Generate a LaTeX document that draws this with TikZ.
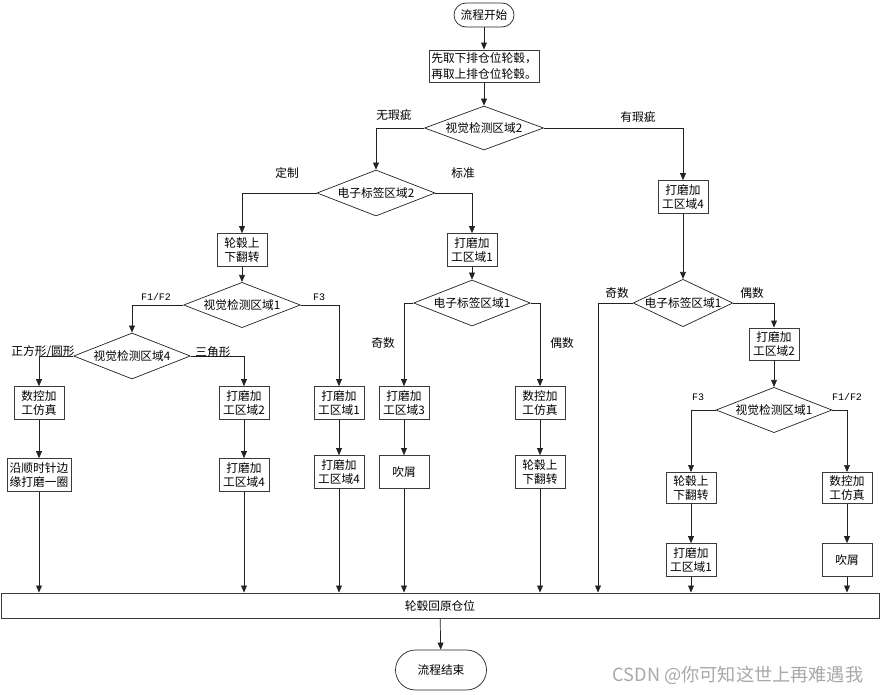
\documentclass[tikz,border=0pt]{standalone}
\usepackage{fontspec}
\setmainfont{Noto Sans CJK SC}
\newfontfamily\labelmono{Liberation Mono}
\usetikzlibrary{arrows.meta,shapes.geometric,positioning}
\definecolor{linecolor}{HTML}{222222}
\definecolor{boxedge}{HTML}{3A3A3A}
\definecolor{markcolor}{HTML}{A8A8A8}

\begin{document}
\begin{tikzpicture}[x=0.03cm, y=-0.03cm,
    procbox/.style={
        rectangle, draw=boxedge, line width=0.8pt, fill=white,
        minimum width=1.5cm, minimum height=0.98cm, inner xsep=1pt, inner ysep=1pt,
        align=center, font=\fontsize{10}{12.5}\selectfont
    },
    decision/.style={
        diamond, draw=linecolor, line width=0.6pt, fill=white,
        minimum width=3.5cm, minimum height=1.36cm, inner sep=0pt, aspect=2.6,
        font=\fontsize{10}{12}\selectfont
    },
    terminal/.style={
        rectangle, rounded corners=#1, draw=linecolor, line width=0.6pt, fill=white,
        font=\fontsize{10}{12}\selectfont
    },
    flow/.style={
        -{Triangle[length=6pt, width=5pt]}, line width=0.6pt, draw=linecolor
    },
    branchlabel/.style={
        font=\fontsize{10}{12}\selectfont, inner sep=0pt
    },
    codelabel/.style={
        font=\labelmono\fontsize{8.5}{10}\selectfont, inner sep=0pt
    }
]
\useasboundingbox (0,0) rectangle (881,694);

% Start and first step
\node[terminal=0.36cm, minimum width=1.8cm, minimum height=0.72cm] (start) at (484,15) {流程开始};
\node[procbox, minimum width=3.3cm, minimum height=0.96cm, font=\fontsize{10}{13}\selectfont] (fetch) at (484,66) {先取下排仓位轮毂，\\再取上排仓位轮毂。};
\node[decision, minimum width=3.57cm, minimum height=1.32cm] (vis2) at (484,128) {视觉检测区域2};

\draw[flow] (start) -- (fetch);
\draw[flow] (fetch) -- (vis2);

% No defect: tag check
\node[decision, minimum width=3.54cm, minimum height=1.38cm] (tag2) at (376,193) {电子标签区域2};
\draw[flow] (vis2.west) -| (tag2.north);
\node[branchlabel] (nodefect) at (394,115) {无瑕疵};

% Defect: grind region 4
\node[procbox] (grindfour) at (683,197) {打磨加\\工区域4};
\draw[flow] (vis2.east) -| (grindfour.north);
\node[branchlabel] (defect) at (638,117) {有瑕疵};

% Custom branch
\node[procbox] (flipA) at (242,250) {轮毂上\\下翻转};
\draw[flow] (tag2.west) -| (flipA.north);
\node[branchlabel] (custom) at (287,173) {定制};

\node[decision] (vis1A) at (242,305) {视觉检测区域1};
\draw[flow] (flipA) -- (vis1A);

\node[decision, minimum height=1.38cm] (vis4) at (132,356) {视觉检测区域4};
\draw[flow] (vis1A.west) -| (vis4.north);
\node[codelabel] (fonetwoA) at (156,297) {F1/F2};

\node[procbox] (grindoneA) at (339,403) {打磨加\\工区域1};
\draw[flow] (vis1A.east) -| (grindoneA.north);
\node[codelabel] (fthreeA) at (319,297) {F3};

\node[procbox] (cncA) at (39,403) {数控加\\工仿真};
\draw[flow] (vis4.west) -| (cncA.north);
\node[branchlabel] (square) at (43,352) {正方形/圆形};

\node[procbox] (grindtwoA) at (244,403) {打磨加\\工区域2};
\draw[flow] (vis4.east) -| (grindtwoA.north);
\node[branchlabel] (triangle) at (213,352) {三角形};

\node[procbox, minimum width=1.92cm] (edge) at (39,475) {沿顺时针边\\缘打磨一圈};
\draw[flow] (cncA) -- (edge);
\node[procbox] (grindfourA) at (244,475) {打磨加\\工区域4};
\draw[flow] (grindtwoA) -- (grindfourA);
\node[procbox] (grindfourB) at (339,472) {打磨加\\工区域4};
\draw[flow] (grindoneA) -- (grindfourB);

% Standard branch
\node[procbox] (grindoneB) at (472,250) {打磨加\\工区域1};
\draw[flow] (tag2.east) -| (grindoneB.north);
\node[branchlabel] (standard) at (463,173) {标准};

\node[decision, minimum height=1.38cm] (tag1A) at (472,303) {电子标签区域1};
\draw[flow] (grindoneB) -- (tag1A);

\node[procbox] (grindthree) at (404,403) {打磨加\\工区域3};
\draw[flow] (tag1A.west) -| (grindthree.north);
\node[branchlabel] (oddA) at (383,343) {奇数};

\node[procbox] (cncB) at (540,403) {数控加\\工仿真};
\draw[flow] (tag1A.east) -| (cncB.north);
\node[branchlabel] (evenA) at (562,343) {偶数};

\node[procbox] (blowA) at (404,472) {吹屑};
\draw[flow] (grindthree) -- (blowA);
\node[procbox] (flipB) at (540,472) {轮毂上\\下翻转};
\draw[flow] (cncB) -- (flipB);

% Defect branch
\node[decision, minimum width=2.85cm, minimum height=1.35cm, aspect=2.1] (tag1B) at (683,303) {电子标签区域1};
\draw[flow] (grindfour) -- (tag1B);
\node[branchlabel] (oddB) at (617,293) {奇数};

\node[procbox, minimum height=0.96cm] (grindtwoB) at (774,344) {打磨加\\工区域2};
\draw[flow] (tag1B.east) -| (grindtwoB.north);
\node[branchlabel] (evenB) at (752,293) {偶数};

\node[decision, minimum width=3.48cm] (vis1B) at (774,410) {视觉检测区域1};
\draw[flow] (grindtwoB) -- (vis1B);

\node[procbox, minimum height=0.93cm] (flipC) at (691,488) {轮毂上\\下翻转};
\draw[flow] (vis1B.west) -| (flipC.north);
\node[codelabel] (fthreeB) at (698,397) {F3};

\node[procbox, minimum height=0.93cm] (cncC) at (847,488) {数控加\\工仿真};
\draw[flow] (vis1B.east) -| (cncC.north);
\node[codelabel] (fonetwoB) at (847,397) {F1/F2};

\node[procbox] (grindoneC) at (691,560) {打磨加\\工区域1};
\draw[flow] (flipC) -- (grindoneC);
\node[procbox] (blowB) at (847,560) {吹屑};
\draw[flow] (cncC) -- (blowB);

% Return bar and end
\node[procbox, minimum width=26.34cm, minimum height=0.75cm] (bar) at (440,605.5) {轮毂回原仓位};
\coordinate (oddpath) at (598,0);
\draw[flow] (tag1B.west) -| (bar.north -| oddpath);

\foreach \src in {edge, grindfourA, grindfourB, blowA, flipB, grindoneC, blowB}
    \draw[flow] (\src.south) -- (\src.south |- bar.north);

\node[terminal=0.6cm, minimum width=2.73cm, minimum height=1.2cm] (finish) at (441,670) {流程结束};
\draw[flow] (bar) -- (finish);

% Watermark
\node[font=\fontsize{15.5}{18}\selectfont, text=markcolor, inner sep=0pt] (mark) at (738,675) {CSDN @你可知这世上再难遇我};

\end{tikzpicture}
\end{document}
